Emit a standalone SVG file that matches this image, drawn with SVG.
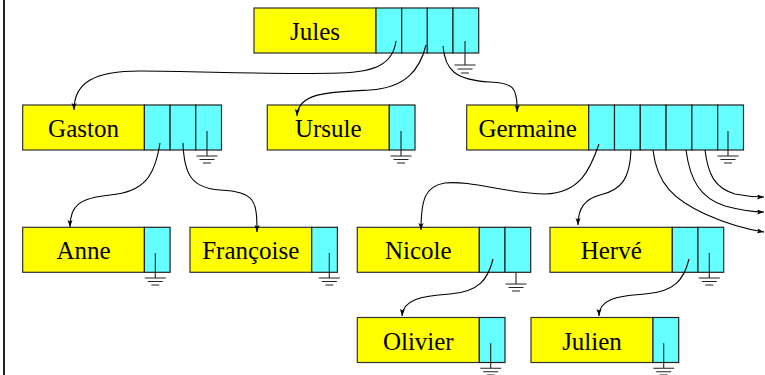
<svg xmlns="http://www.w3.org/2000/svg" width="765" height="375" viewBox="0 0 765 375">
<style>
.y{fill:#ffff00;stroke:#333;stroke-width:1.2}
.c{fill:#66ffff;stroke:#222;stroke-width:1.2}
.t{font-family:"Liberation Serif","Times New Roman",serif;font-size:25px;fill:#000;text-anchor:middle}
.g{stroke:#222;stroke-width:1.1;fill:none}
.e{stroke:#000;stroke-width:1.1;fill:none;marker-end:url(#ah)}
</style>
<defs>
<marker id="ah" markerUnits="userSpaceOnUse" markerWidth="8" markerHeight="6" refX="7" refY="2.5" orient="auto">
<path d="M0,0 L7,2.5 L0,5 L1.5,2.5 z" fill="#000"/>
</marker>
</defs>
<rect width="765" height="375" fill="#fff"/>
<line x1="4" y1="0" x2="4" y2="375" stroke="#222" stroke-width="2"/>

<g id="jules">
<rect class="y" x="254" y="8" width="122" height="45"/>
<rect class="c" x="376" y="8" width="25.7" height="45"/>
<rect class="c" x="401.7" y="8" width="25.7" height="45"/>
<rect class="c" x="427.3" y="8" width="25.7" height="45"/>
<rect class="c" x="453" y="8" width="25.7" height="45"/>
<text class="t" x="315" y="40">Jules</text>
<path class="g" d="M465,41 V65 M454.5,65 H475.5 M457.5,69 H472.5 M461,73 H469"/>
</g>

<g id="gaston">
<rect class="y" x="22.7" y="105" width="121.7" height="45"/>
<rect class="c" x="144.4" y="105" width="25.7" height="45"/>
<rect class="c" x="170.1" y="105" width="25.7" height="45"/>
<rect class="c" x="195.8" y="105" width="25.7" height="45"/>
<text class="t" x="83.5" y="137">Gaston</text>
<path class="g" d="M207,131 V156 M196.5,156 H217.5 M199.5,159.5 H214.5 M203,163 H211"/>
</g>

<g id="ursule">
<rect class="y" x="267.3" y="105" width="122" height="45"/>
<rect class="c" x="389.3" y="105" width="25.7" height="45"/>
<text class="t" x="328.3" y="137">Ursule</text>
<path class="g" d="M401,131 V156 M390.5,156 H411.5 M393.5,159.5 H408.5 M397,163 H405"/>
</g>

<g id="germaine">
<rect class="y" x="466.7" y="105" width="122" height="45"/>
<rect class="c" x="588.7" y="105" width="25.8" height="45"/>
<rect class="c" x="614.5" y="105" width="25.8" height="45"/>
<rect class="c" x="640.3" y="105" width="25.8" height="45"/>
<rect class="c" x="666.1" y="105" width="25.8" height="45"/>
<rect class="c" x="691.9" y="105" width="25.8" height="45"/>
<rect class="c" x="717.7" y="105" width="25.8" height="45"/>
<text class="t" x="527.7" y="137">Germaine</text>
<path class="g" d="M728,131 V156 M717.5,156 H738.5 M720.5,159.5 H735.5 M724,163 H732"/>
</g>

<g id="anne">
<rect class="y" x="22.7" y="227.3" width="121.7" height="45"/>
<rect class="c" x="144.4" y="227.3" width="25.7" height="45"/>
<text class="t" x="83.5" y="259.3">Anne</text>
<path class="g" d="M155.3,253 V278 M144.8,278 H165.8 M147.8,281.5 H162.8 M151.3,285 H159.3"/>
</g>

<g id="francoise">
<rect class="y" x="190" y="227.3" width="121.7" height="45"/>
<rect class="c" x="311.7" y="227.3" width="25.7" height="45"/>
<text class="t" x="250.8" y="259.3">Françoise</text>
<path class="g" d="M329.3,253 V278 M318.8,278 H339.8 M321.8,281.5 H336.8 M325.3,285 H333.3"/>
</g>

<g id="nicole">
<rect class="y" x="357.3" y="227.3" width="122" height="45"/>
<rect class="c" x="479.3" y="227.3" width="25.7" height="45"/>
<rect class="c" x="505" y="227.3" width="25.7" height="45"/>
<text class="t" x="418.3" y="259.3">Nicole</text>
<path class="g" d="M516,272.3 V284 M505.5,284 H526.5 M508.5,287.5 H523.5 M512,291 H520"/>
</g>

<g id="herve">
<rect class="y" x="550" y="227.3" width="122.3" height="45"/>
<rect class="c" x="672.3" y="227.3" width="25.7" height="45"/>
<rect class="c" x="698" y="227.3" width="25.7" height="45"/>
<text class="t" x="611.2" y="259.3">Hervé</text>
<path class="g" d="M709.3,253 V278 M698.8,278 H719.8 M701.8,281.5 H716.8 M705.3,285 H713.3"/>
</g>

<g id="olivier">
<rect class="y" x="357.3" y="317.5" width="122" height="45"/>
<rect class="c" x="479.3" y="317.5" width="25.7" height="45"/>
<text class="t" x="418.3" y="349.5">Olivier</text>
<path class="g" d="M490.7,343.3 V368.3 M480.2,368.3 H501.2 M483.2,371.8 H498.2 M486.7,375 H494.7"/>
</g>

<g id="julien">
<rect class="y" x="531" y="317.5" width="122" height="45"/>
<rect class="c" x="653" y="317.5" width="25.7" height="45"/>
<text class="t" x="592" y="349.5">Julien</text>
<path class="g" d="M663.7,343.3 V368.3 M653.2,368.3 H674.2 M656.2,371.8 H671.2 M659.7,375 H667.7"/>
</g>

<g id="connectors">
<path class="e" d="M396,41 C393,64 375,72 340,73 C270,75 200,71 140,71 C95,71 74,82 74,110"/>
<path class="e" d="M426,45 C420,70 405,88 370,90 C330,92 298,92 297,116"/>
<path class="e" d="M443,46 C445,70 455,80 490,82 C512,83 518,86 517,112"/>
<path class="e" d="M160,143 C155,175 145,192 110,195 C80,198 70,205 70,227"/>
<path class="e" d="M183,143 C184,175 192,188 220,190 C255,192 257,200 257,232"/>
<path class="e" d="M599,144 C590,170 580,193 545,194 C510,194 470,180 445,183 C425,186 421,200 421,230"/>
<path class="e" d="M631,150 C630,178 622,190 600,195 C585,199 578,208 578,225"/>
<path class="e" d="M653,150 C657,185 675,200 705,214 C725,223 745,229 764,232"/>
<path class="e" d="M686,150 C690,180 700,198 725,206 C740,210 752,212 764,212"/>
<path class="e" d="M705,150 C708,175 715,188 735,194 C745,196 755,197 764,197"/>
<path class="e" d="M493,259 C488,280 478,292 450,294 C420,296 403,300 402,316"/>
<path class="e" d="M689,259 C684,280 674,292 645,294 C615,296 599,300 599,316"/>
</g>
</svg>
